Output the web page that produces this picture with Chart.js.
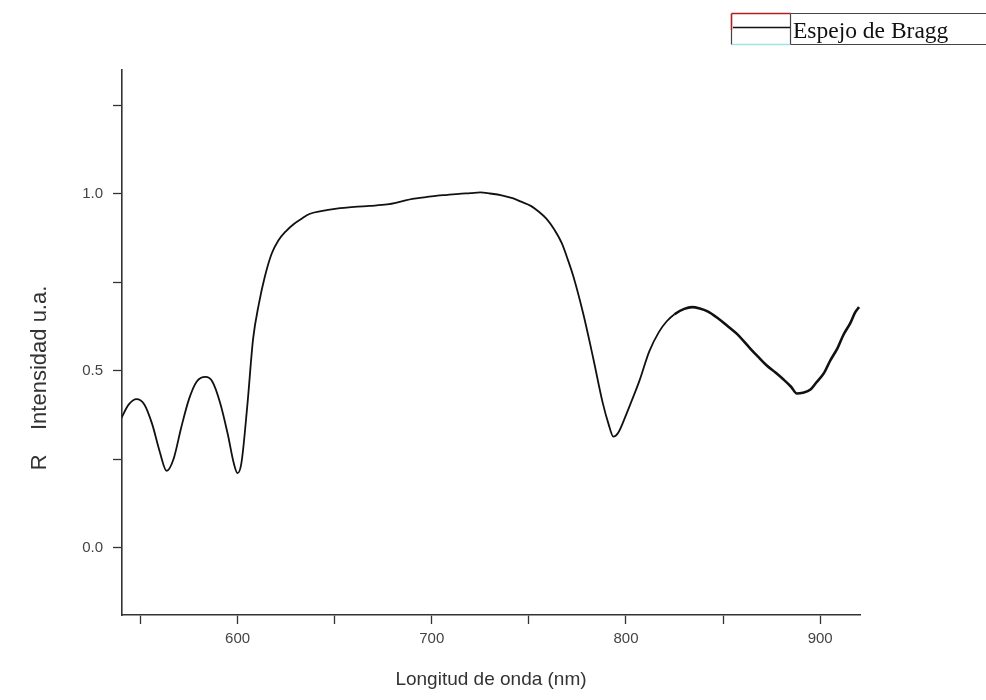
<!DOCTYPE html>
<html>
<head>
<meta charset="utf-8">
<title>Espejo de Bragg</title>
<script src="https://cdn.jsdelivr.net/npm/chart.js@4.4.1/dist/chart.umd.min.js"></script>
<style>
  html, body { margin: 0; padding: 0; background: #fff; }
  #wrap { position: relative; width: 986px; height: 700px; }
</style>
</head>
<body>
<div id="wrap"><canvas id="chart"></canvas></div>
<script>
// spectrum (nm, reflectance)
const wavelength = [
  540, 544, 548, 552, 556, 560, 563.5, 567, 571, 575, 579, 583.5, 587, 591, 595, 598, 600,
  602, 605, 608, 611, 614, 617.5, 621, 625, 629, 633, 637, 643, 651, 660, 668, 677, 684,
  690, 697, 703, 708, 714, 720, 725, 730, 736, 742, 746, 751, 755, 759, 763, 767, 770,
  773, 778, 783, 788, 791, 793.5, 796, 800, 804, 807, 812, 817, 821, 825, 830, 834, 838,
  842, 847, 852, 857, 864, 868, 872.5, 877, 881, 885, 888, 891, 895, 898, 902, 905, 909,
  912, 915.5, 918, 920
];
const intensity = [
  0.365, 0.405, 0.420, 0.405, 0.350, 0.270, 0.217, 0.250, 0.340, 0.420, 0.470, 0.483, 0.470, 0.410, 0.320, 0.240, 0.211,
  0.240, 0.400, 0.590, 0.690, 0.765, 0.830, 0.868, 0.895, 0.915, 0.930, 0.943, 0.951, 0.958, 0.963, 0.966, 0.970, 0.978,
  0.986, 0.991, 0.995, 0.997, 1.000, 1.002, 1.004, 1.001, 0.996, 0.987, 0.978, 0.966, 0.950, 0.930, 0.900, 0.860, 0.815,
  0.765, 0.661, 0.539, 0.410, 0.350, 0.314, 0.325, 0.375, 0.430, 0.473, 0.555, 0.610, 0.640, 0.660, 0.675, 0.680, 0.676,
  0.668, 0.650, 0.628, 0.605, 0.563, 0.540, 0.515, 0.495, 0.476, 0.455, 0.436, 0.438, 0.447, 0.467, 0.494, 0.527, 0.565,
  0.602, 0.635, 0.665, 0.680
];

const xTicks = [550, 600, 650, 700, 750, 800, 850, 900];
const xLabels = [600, 700, 800, 900];
const yTicks = [0, 0.25, 0.5, 0.75, 1.0, 1.25];
const yLabels = [0, 0.5, 1.0];

const seriesName = 'Espejo de Bragg';
const xTitle = 'Longitud de onda (nm)';
const yTitle = 'R    Intensidad u.a.';

const AXIS = '#333';
const TICK_FONT = { family: '"Liberation Sans", Arial, sans-serif', size: 15 };

// y title sits a bit below centre in the original, so draw it by hand; same for the odd legend box
const extras = {
  id: 'extras',
  afterDraw(chart) {
    const ctx = chart.ctx;
    ctx.save();
    ctx.fillStyle = '#333';
    ctx.font = '22px "Liberation Sans", Arial, sans-serif';
    ctx.textAlign = 'center';
    ctx.textBaseline = 'middle';
    ctx.translate(40, 378);
    ctx.rotate(-Math.PI / 2);
    ctx.fillText(yTitle, 0, 0);
    ctx.restore();

    // legend
    ctx.save();
    ctx.lineWidth = 1.2;
    ctx.strokeStyle = '#444';
    ctx.beginPath();
    ctx.moveTo(790.5, 13.5); ctx.lineTo(990, 13.5);
    ctx.moveTo(790.5, 13.5); ctx.lineTo(790.5, 44.5);
    ctx.moveTo(790.5, 44.5); ctx.lineTo(990, 44.5);
    ctx.moveTo(731.5, 30); ctx.lineTo(731.5, 44.5);
    ctx.stroke();
    ctx.strokeStyle = '#b02020';
    ctx.lineWidth = 1.6;
    ctx.beginPath();
    ctx.moveTo(731.5, 13.5); ctx.lineTo(790.5, 13.5);
    ctx.moveTo(731.5, 13.5); ctx.lineTo(731.5, 30);
    ctx.stroke();
    ctx.strokeStyle = '#9fe3e8';
    ctx.beginPath();
    ctx.moveTo(732, 44.5); ctx.lineTo(790, 44.5);
    ctx.stroke();
    ctx.strokeStyle = '#111';
    ctx.lineWidth = 1.6;
    ctx.beginPath();
    ctx.moveTo(733, 27.5); ctx.lineTo(790, 27.5);
    ctx.stroke();
    ctx.fillStyle = '#111';
    ctx.font = '23.5px "Liberation Serif", "Times New Roman", serif';
    ctx.textAlign = 'left';
    ctx.textBaseline = 'alphabetic';
    ctx.fillText(chart.data.datasets[0].label, 793, 38);
    ctx.restore();
  }
};

new Chart(document.getElementById('chart'), {
  type: 'line',
  data: {
    datasets: [{
      label: seriesName,
      data: wavelength.map((w, i) => ({ x: w, y: intensity[i] })),
      borderColor: '#111',
      borderWidth: 1.8,
      pointRadius: 0,
      cubicInterpolationMode: 'monotone',
      fill: false,
      // the measured trace is noisier (looks heavier) on the long-wave side
      segment: { borderWidth: (c) => c.p0.parsed.x > 822 ? 2.6 : 1.8 }
    }]
  },
  options: {
    responsive: true,
    maintainAspectRatio: false,
    animation: false,
    layout: { padding: { top: 70, right: 126, left: 0, bottom: 0 } },
    plugins: { legend: { display: false }, tooltip: { enabled: false } },
    scales: {
      x: {
        type: 'linear',
        min: 540.5,
        max: 920.5,
        afterBuildTicks: (scale) => { scale.ticks = xTicks.map(v => ({ value: v })); },
        afterFit: (scale) => { scale.height = 85; },
        ticks: {
          autoSkip: false,
          maxRotation: 0,
          padding: 6,
          color: '#444',
          font: TICK_FONT,
          callback: (v) => xLabels.includes(v) ? String(v) : ''
        },
        grid: { drawOnChartArea: false, tickLength: 9, tickColor: AXIS, tickWidth: 1.3 },
        border: { display: true, color: AXIS, width: 1.6 },
        title: {
          display: true,
          text: xTitle,
          color: '#333',
          font: { family: '"Liberation Sans", Arial, sans-serif', size: 19 },
          padding: { top: 6, bottom: 9 }
        }
      },
      y: {
        min: -0.19,
        max: 1.35,
        afterBuildTicks: (scale) => { scale.ticks = yTicks.map(v => ({ value: v })); },
        afterFit: (scale) => { scale.width = 122; },
        ticks: {
          autoSkip: false,
          padding: 10,
          color: '#444',
          font: TICK_FONT,
          callback: (v) => yLabels.includes(v) ? v.toFixed(1) : ''
        },
        grid: { drawOnChartArea: false, tickLength: 9, tickColor: AXIS, tickWidth: 1.3 },
        border: { display: true, color: AXIS, width: 1.6 }
      }
    }
  },
  plugins: [extras]
});
</script>
</body>
</html>
